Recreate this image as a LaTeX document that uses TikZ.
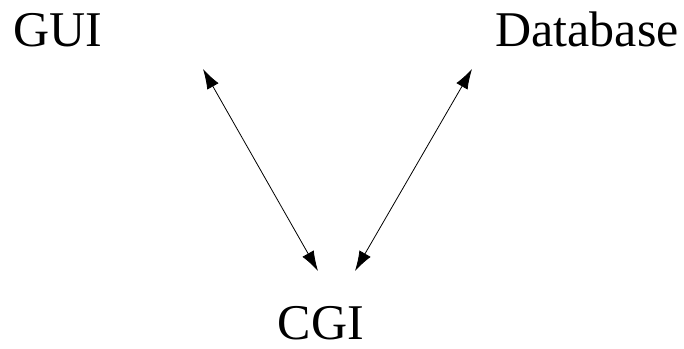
\documentclass[tikz,border=0pt]{standalone}
\usepackage{fontspec}
\setmainfont{Liberation Serif}
\usetikzlibrary{arrows.meta}
\tikzset{
	label/.style = {inner sep = 0pt, font = \fontsize{50}{60}\selectfont},
	link/.style = {{Latex[length = 20pt, width = 13pt]}-{Latex[length = 20pt, width = 13pt]}, line width = .8pt}
}
\begin{document}
\begin{tikzpicture}[x = 1pt, y = 1pt]
	\useasboundingbox (0, 0) rectangle (684, 348);
	\node[label, anchor = base west] (gui) at (13, 301) {GUI};
	\node[label, anchor = base east] (db) at (679, 301) {Database};
	\node[label, anchor = base] (cgi) at (321, 9) {CGI};
	\coordinate (gui-end) at (203, 279); \coordinate (db-end) at (472, 279);
	\coordinate (cgi-l) at (318, 77); \coordinate (cgi-r) at (355, 77);
	\draw[link] (gui-end)--(cgi-l);
	\draw[link] (db-end)--(cgi-r);
\end{tikzpicture}
\end{document}
